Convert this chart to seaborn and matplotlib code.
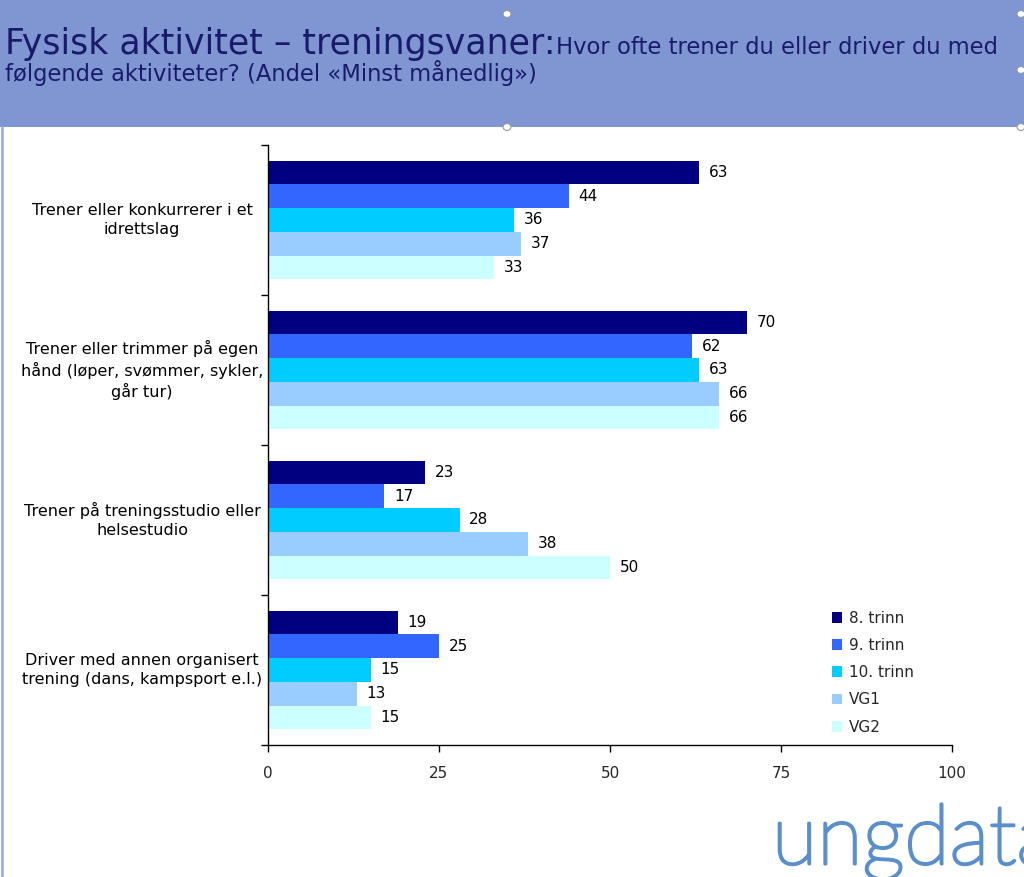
import matplotlib
matplotlib.use("Agg")
import matplotlib.pyplot as plt
import matplotlib.patches as mpatches
import matplotlib.patheffects as pe
from matplotlib.transforms import blended_transform_factory
import seaborn as sns
import pandas as pd

categories = [
    "Trener eller konkurrerer i et\nidrettslag",
    "Trener eller trimmer på egen\nhånd (løper, svømmer, sykler,\ngår tur)",
    "Trener på treningsstudio eller\nhelsestudio",
    "Driver med annen organisert\ntrening (dans, kampsport e.l.)",
]
series_names = ["8. trinn", "9. trinn", "10. trinn", "VG1", "VG2"]
trinn8 = [63, 70, 23, 19]
trinn9 = [44, 62, 17, 25]
trinn10 = [36, 63, 28, 15]
vg1 = [37, 66, 38, 13]
vg2 = [33, 66, 50, 15]
colors = ["#000080", "#3366FF", "#00CCFF", "#99CCFF", "#CCFFFF"]
xticks = [0, 25, 50, 75, 100]

rows = []
for name, vals in zip(series_names, [trinn8, trinn9, trinn10, vg1, vg2]):
    for c, v in zip(categories, vals):
        rows.append({"cat": c, "series": name, "value": v})
df = pd.DataFrame(rows)

sns.set_theme(style="white")
plt.rcParams["font.family"] = ["DejaVu Sans"]

fig = plt.figure(figsize=(10.24, 8.77), dpi=100)
fig.patch.set_facecolor("white")

# header band
fig.add_artist(mpatches.Rectangle((0, 1 - 127 / 877), 1, 127 / 877, transform=fig.transFigure,
                                  facecolor="#7F96D2", edgecolor="none", zorder=0))
# left border line
fig.add_artist(plt.Line2D([2 / 1024, 2 / 1024], [0, 1 - 127 / 877], transform=fig.transFigure,
                          color="#9DB0DC", lw=2))

ax = fig.add_axes([268 / 1024, 1 - 745 / 877, (952 - 268) / 1024, (745 - 145) / 877])
sns.barplot(data=df, y="cat", x="value", hue="series", hue_order=series_names,
            order=categories, palette=colors, orient="h", width=0.79,
            saturation=1, ax=ax, legend=False, linewidth=0, edgecolor="none")

for cont in ax.containers:
    ax.bar_label(cont, labels=[f"{int(v)}" for v in cont.datavalues], padding=7,
                 fontsize=11, color="black")

ax.set_xlim(0, 100)
ax.set_ylim(3.5, -0.5)
ax.set_xticks(xticks)
ax.set_xticklabels([str(t) for t in xticks], fontsize=11)
ax.set_yticks([-0.5, 0.5, 1.5, 2.5, 3.5])
ax.set_yticklabels([])
ax.set_xlabel("")
ax.set_ylabel("")
ax.tick_params(axis="both", direction="out", length=5, width=1, color="black", left=True, bottom=True)
ax.tick_params(axis="x", pad=10)
for s in ["top", "right"]:
    ax.spines[s].set_visible(False)
for s in ["left", "bottom"]:
    ax.spines[s].set_color("black")
    ax.spines[s].set_linewidth(1)
ax.set_facecolor("white")

tr = blended_transform_factory(fig.transFigure, ax.transData)
for i, c in enumerate(categories):
    ax.text(142 / 1024, i, c, transform=tr, ha="center", va="center", fontsize=11.5,
            linespacing=1.3, color="black")

handles = [mpatches.Patch(facecolor=col, edgecolor="none", label=n) for n, col in zip(series_names, colors)]
fig.legend(handles=handles, loc="upper left", bbox_to_anchor=(818 / 1024, 1 - 597 / 877),
           frameon=False, fontsize=11, handlelength=0.7, handleheight=0.7,
           handletextpad=0.4, labelspacing=0.8)

# title
title_color = "#1A1A6B"
t1 = fig.text(5 / 1024, 1 - 54 / 877, "Fysisk aktivitet – treningsvaner:", fontsize=25,
              color=title_color, va="baseline", ha="left")
fig.canvas.draw()
bb = t1.get_window_extent()
x2 = bb.x1 / fig.bbox.width
fig.text(x2, 1 - 54 / 877, "Hvor ofte trener du eller driver du med", fontsize=16.3,
         color=title_color, va="baseline", ha="left")
fig.text(5 / 1024, 1 - 81 / 877, "følgende aktiviteter? (Andel «Minst månedlig»)", fontsize=16.3,
         color=title_color, va="baseline", ha="left")

# selection handles
for (hx, hy) in [(507, 14), (507, 127), (1021, 70), (1021, 127), (1021, 14)]:
    fig.add_artist(mpatches.Circle((hx / 1024, 1 - hy / 877), 4 / 1024, transform=fig.transFigure,
                                   facecolor="white", edgecolor="#999999", lw=0.8, zorder=5))

# logo
fig.text(772 / 1024, 1 - 864 / 877, "ungdata", fontsize=60, color="#5A8FCB",
         family=["Lato", "DejaVu Sans"], fontweight="light", va="baseline", ha="left",
         path_effects=[pe.withStroke(linewidth=2.2, foreground="#5A8FCB")])

fig.savefig("out.png", dpi=100)
